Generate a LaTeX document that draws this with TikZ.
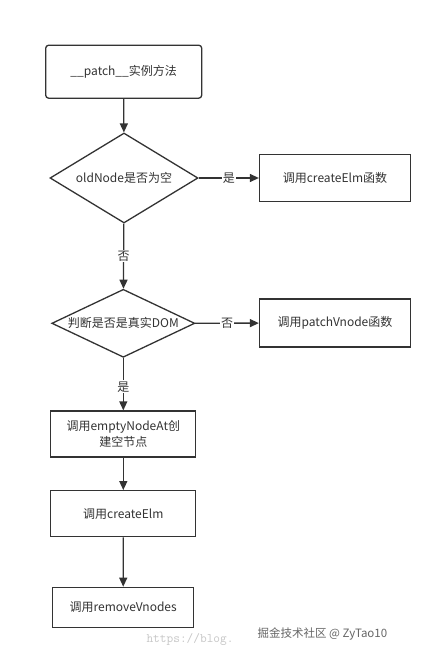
\documentclass[tikz,border=0pt]{standalone}
\usepackage{fontspec}
\setmainfont{Noto Sans CJK SC}
\usetikzlibrary{shapes.geometric,arrows.meta}
\definecolor{ink}{HTML}{333333}
\tikzset{
  box/.style={draw=ink, line width=1.3pt, minimum width=#1, inner sep=2pt, align=center, text=ink, font=\fontsize{12}{15.5}\selectfont},
  dia/.style={draw=ink, line width=1.3pt, diamond, inner sep=0pt, label={[text=ink, font=\fontsize{12}{14}\selectfont]center:#1}},
  arr/.style={draw=ink, line width=1.3pt, -{Triangle[length=9pt,width=8pt]}},
  lab/.style={fill=white, inner sep=1pt, text=ink, font=\fontsize{12}{14}\selectfont},
}
\begin{document}
\begin{tikzpicture}[x=1pt,y=-1pt]
\useasboundingbox[fill=white] (0,0) rectangle (441,658);
\node[box=156pt, minimum height=53pt, rounded corners=3pt] (start) at (123.7,71.7) {\_\_patch\_\_实例方法};
\node[dia={oldNode是否为空}, minimum width=148pt, minimum height=90pt] (d1) at (124,178) {};
\node[box=151pt, minimum height=47pt] (c1) at (335,178) {调用createElm函数};
\node[dia={判断是否是真实DOM}, minimum width=143pt, minimum height=68pt] (d2) at (123.3,323.3) {};
\node[box=151pt, minimum height=48pt] (p1) at (335,323) {调用patchVnode函数};
\node[box=145pt, minimum height=46pt] (e1) at (123.3,434) {调用emptyNodeAt创\\建空节点};
\node[box=145pt, minimum height=46pt] (c2) at (123.3,513.7) {调用createElm};
\node[box=141pt, minimum height=40pt] (r1) at (123.2,607.3) {调用removeVnodes};
\draw[arr] (start) -- (d1);
\draw[arr] (d1) -- node[lab] (l1) {是} (c1);
\draw[arr] (d1) -- node[lab, pos=0.5] (l2) {否} (d2);
\draw[arr] (d2) -- node[lab] (l3) {否} (p1);
\draw[arr] (d2) -- node[lab, pos=0.55] (l4) {是} (e1);
\draw[arr] (e1) -- (c2);
\draw[arr] (c2) -- (r1);
\node[text=black!22, font=\ttfamily\fontsize{13}{13}\selectfont, anchor=west] (w1) at (143,639) {https://blog.};
\node[text=black!60, font=\fontsize{11.5}{13}\selectfont, anchor=west] (w2) at (254,634) {掘金技术社区 @ ZyTao10};
\end{tikzpicture}
\end{document}
